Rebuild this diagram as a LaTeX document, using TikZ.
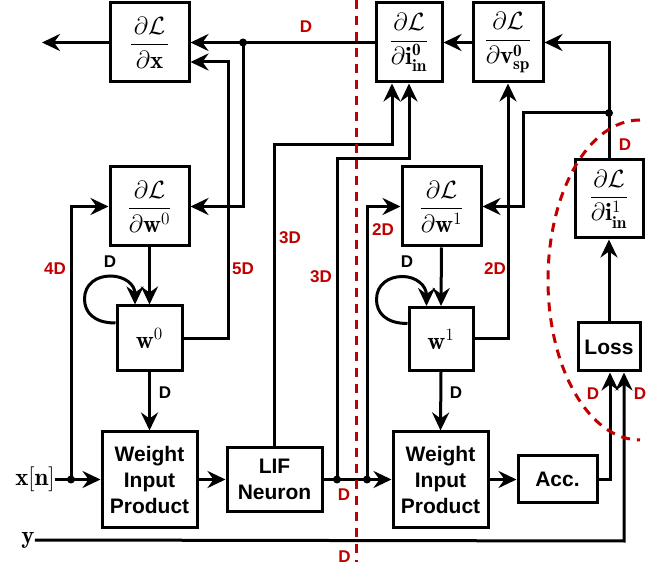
\RequirePackage{fix-cm}
\documentclass[tikz,border=0pt]{standalone}
\usepackage{amsmath}
\usepackage{graphicx}
\usepackage{fontspec}
\setsansfont{Liberation Sans}
\usetikzlibrary{arrows.meta,calc}
\definecolor{dred}{HTML}{C00000}
\tikzset{
 box/.style={draw, line width=3pt, inner sep=0pt, align=center, font=\sffamily\bfseries\fontsize{21}{26}\selectfont},
 mbox/.style={draw, line width=3pt, inner sep=0pt, font=\fontsize{20.74}{25}\selectfont},
 conn/.style={line width=3pt, -{Stealth[length=18pt,width=17pt,inset=6pt]}},
 rlab/.style={text=dred, font=\sffamily\bfseries\fontsize{17}{20}\selectfont, inner sep=0pt},
 blab/.style={text=black, font=\sffamily\bfseries\fontsize{17}{20}\selectfont, inner sep=0pt},
 dot/.style={circle, fill, inner sep=0pt, minimum size=8pt},
 rdash/.style={draw=dred, line width=3pt, dash pattern=on 9pt off 7pt},
}
\newcommand{\pd}[2]{\scalebox{1.2}{$\dfrac{\hspace{0.1em}\partial #1\hspace{0.1em}}{\partial #2}$}}
\newcommand{\bm}[1]{\scalebox{1.2}{$#1$}}
\begin{document}
\begin{tikzpicture}[x=1pt,y=-1pt]
\useasboundingbox (0,0) rectangle (657,572);
% boxes
\node[mbox, minimum width=79pt, minimum height=79pt] (dLdx) at (149.5,42.5) {\pd{\mathcal{L}}{\mathbf{x}}};
\node[mbox, minimum width=66pt, minimum height=79pt] (dLdi0) at (409,42.5) {\pd{\mathcal{L}}{\mathbf{i}^{\mathbf{0}}_{\mathbf{in}}}};
\node[mbox, minimum width=70pt, minimum height=79pt] (dLdv0) at (508,42.5) {\pd{\mathcal{L}}{\mathbf{v}^{\mathbf{0}}_{\mathbf{sp}}}};
\node[mbox, minimum width=79pt, minimum height=79pt] (dLdw0) at (149.5,206.5) {\pd{\mathcal{L}}{\mathbf{w}^{0}}};
\node[mbox, minimum width=65pt, minimum height=65pt] (w0) at (149.5,338.5) {\bm{\mathbf{w}^{0}}};
\node[box, minimum width=95pt, minimum height=95pt] (wip0) at (149.5,479.5) {Weight\\Input\\Product};
\node[box, minimum width=95pt, minimum height=63pt] (lif) at (274.5,479.5) {LIF\\Neuron};
\node[mbox, minimum width=79pt, minimum height=79pt] (dLdw1) at (441.5,206.5) {\pd{\mathcal{L}}{\mathbf{w}^{1}}};
\node[mbox, minimum width=64pt, minimum height=63pt] (w1) at (441,339) {\bm{\mathbf{w}^{1}}};
\node[box, minimum width=95pt, minimum height=95pt] (wip1) at (440.5,479.5) {Weight\\Input\\Product};
\node[box, minimum width=79pt, minimum height=47pt] (acc) at (557.5,479.5) {Acc.};
\node[box, minimum width=62pt, minimum height=48pt] (loss) at (609,347) {Loss};
\node[mbox, minimum width=68pt, minimum height=78pt] (dLdi1) at (609,199) {\pd{\mathcal{L}}{\mathbf{i}^{1}_{\mathbf{in}}}};
\node[inner sep=0pt, font=\fontsize{20.74}{25}\selectfont] (xn) at (35,479.5) {\bm{\mathbf{x}[\mathbf{n}]}};
\node[inner sep=0pt, font=\fontsize{20.74}{25}\selectfont] (ylab) at (28,540) {\bm{\mathbf{y}}};
% junctions
\node[dot] (j0) at (243,42.5) {};
\node[dot] (j1) at (71,479.5) {};
\node[dot] (j2) at (337,479.5) {};
\node[dot] (j3) at (367,479.5) {};
\node[dot] (j4) at (609,113) {};
\coordinate (xl) at (42,42.5);
\coordinate (a5) at (228,62);
\coordinate (c1) at (392,145);
\coordinate (c2) at (409,159);
\coordinate (c4) at (610,479.5);
\coordinate (c5) at (624,541);
\coordinate (c6) at (523,113);
% connectors
\draw[conn] (dLdx.west) -- (xl);
\draw[conn] (dLdi0.west) -- (dLdx.east);
\draw[conn] (j0.center) |- (dLdw0.east);
\draw[conn] (w0.east) -| (a5) -- (a5 -| dLdx.east);
\draw[conn] (xn.east) -- (wip0.west);
\draw[conn] (j1.center) |- (dLdw0.west);
\draw[conn] (dLdw0.south) -- (w0.north);
\draw[conn] (w0.south) -- (wip0.north);
\draw[conn] (wip0.east) -- (lif.west);
\draw[conn] (lif.north) |- (c1) -- (c1 |- dLdi0.south);
\draw[conn] (lif.east) -- (wip1.west);
\draw[conn] (j2.center) |- (c2) -- (c2 |- dLdi0.south);
\draw[conn] (j3.center) |- (dLdw1.west);
\draw[conn] (dLdw1.south) -- (w1.north);
\draw[conn] (w1.south) -- (wip1.north);
\draw[conn] (w1.east) -| (dLdv0.south);
\draw[conn] (wip1.east) -- (acc.west);
\draw[conn] (acc.east) -- (c4) -- (c4 |- loss.south);
\draw[conn] (ylab.east) -- (c5) -- (c5 |- loss.south);
\draw[conn] (loss.north) -- (dLdi1.south);
\draw[conn] (dLdi1.north) |- (dLdv0.east);
\draw[conn] (j4.center) -- (c6) |- (dLdw1.east);
\draw[conn] (dLdv0.west) -- (dLdi0.east);
% self loops
\draw[conn] ($(w0.west)+(0,-15.5)$) .. controls +(-22,0) and +(0,13) .. ($(w0.west)+(-31,-39.5)$) .. controls +(0,-15) and +(-14,0) .. ($(w0.west)+(-5,-62.5)$) .. controls +(14,0) and +(0,-20) .. ($(w0.north)+(-14.5,0)$);
\draw[conn] ($(w1.west)+(0,-15.5)$) .. controls +(-22,0) and +(0,13) .. ($(w1.west)+(-31,-39.5)$) .. controls +(0,-15) and +(-14,0) .. ($(w1.west)+(-5,-62.5)$) .. controls +(14,0) and +(0,-20) .. ($(w1.north)+(-14.5,0)$);
% red dashed
\draw[rdash] (356,0) -- (356,562);
\draw[rdash] (640,120) arc[start angle=90, end angle=270, x radius=92pt, y radius=160pt];
% labels
\node[rlab] (l1) at (306,27) {D};
\node[rlab] (l2) at (55,269) {4D};
\node[rlab] (l3) at (243,269) {5D};
\node[rlab] (l4) at (290,238) {3D};
\node[rlab] (l5) at (321,277) {3D};
\node[rlab] (l6) at (383,230) {2D};
\node[rlab] (l7) at (495,269) {2D};
\node[rlab] (l8) at (625,145) {D};
\node[rlab] (l9) at (593,394) {D};
\node[rlab] (l10) at (640,394) {D};
\node[rlab] (l11) at (344,495) {D};
\node[rlab] (l12) at (344.5,557) {D};
\node[blab] (b1) at (110,262) {D};
\node[blab] (b2) at (165,393) {D};
\node[blab] (b3) at (407,262) {D};
\node[blab] (b4) at (456,393) {D};
\end{tikzpicture}
\end{document}
